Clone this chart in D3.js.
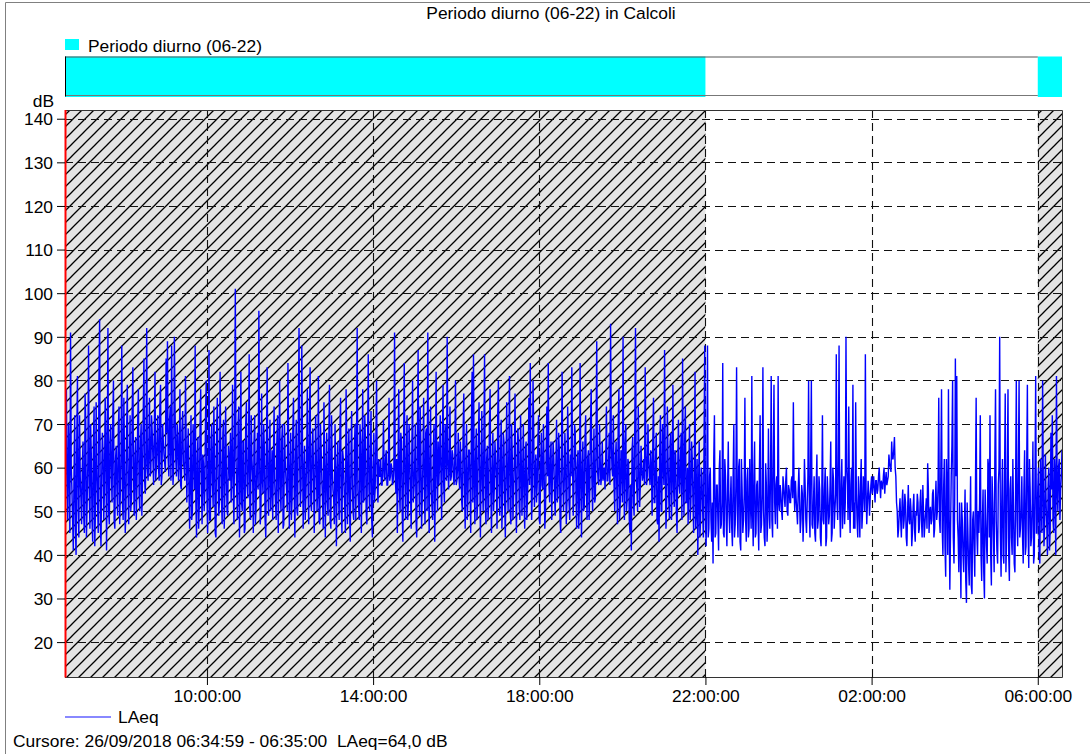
<!DOCTYPE html>
<html><head><meta charset="utf-8">
<script src="https://cdn.jsdelivr.net/npm/d3@7"></script>
<style>body{margin:0;background:#fff}svg{display:block}text{font-family:"Liberation Sans",Arial,Helvetica,sans-serif;white-space:pre}</style>
</head><body><svg id="c" width="1090" height="754"></svg>
<script>
const title = "Periodo diurno (06-22) in Calcoli";
const periodLabel = "Periodo diurno (06-22)";
const seriesName = "LAeq";
const yUnit = "dB";
const cursorText = "Cursore: 26/09/2018 06:34:59 - 06:35:00  LAeq=64,0 dB";
const startTime = "2018-09-25T06:35:00";
const endTime = "2018-09-26T06:35:00";
const yDomain = [12, 142];
const yTicks = [20, 30, 40, 50, 60, 70, 80, 90, 100, 110, 120, 130, 140];
const xTickTimes = ["2018-09-25T10:00:00","2018-09-25T14:00:00","2018-09-25T18:00:00","2018-09-25T22:00:00","2018-09-26T02:00:00","2018-09-26T06:00:00"];
const xTickLabels = ["10:00:00","14:00:00","18:00:00","22:00:00","02:00:00","06:00:00"];
const dayPeriodStarts = ["2018-09-25T06:35:00","2018-09-26T06:00:00"];
const dayPeriodEnds = ["2018-09-25T22:00:00","2018-09-26T06:35:00"];
// LAeq at even minutes (06:35, 06:37, ...), one row per hour
const laeqEven = [
50,78,48,62,91,55,41,72,40,81,44,58,47,66,45,70,52,88,46,63,43,74,50,60,45,94,42,68,48,76,
41,92,47,70,52,80,46,65,49,74,55,88,48,62,50,79,47,72,53,83,49,67,56,78,50,70,58,85,54,92,
57,76,59,68,56,82,60,72,57,79,58,66,61,85,89,58,74,88,56,90,62,70,57,78,55,73,60,81,52,69,
46,72,50,64,88,44,67,52,78,47,61,55,80,45,87,48,70,51,63,44,76,49,82,53,68,46,74,50,65,57,
52,79,47,101,55,70,44,82,50,66,46,75,53,86,48,62,45,72,51,68,96,47,77,54,64,44,83,49,71,56,
48,74,52,66,45,80,50,70,47,62,55,84,46,68,53,76,44,71,49,92,51,88,46,65,54,78,47,83,50,69,
45,72,50,81,47,64,52,75,44,68,49,79,46,60,53,70,42,66,48,76,45,62,51,78,47,69,43,73,50,65,
48,92,51,70,45,78,53,66,47,86,50,73,44,68,55,80,52,58,62,56,71,57,64,56,76,58,60,57,91,54,
45,78,50,66,43,84,48,72,52,62,46,80,55,70,44,87,49,65,53,76,47,69,91,45,74,51,64,43,82,50,
56,72,48,79,52,66,90,55,74,58,63,56,80,57,68,55,61,50,77,46,70,53,64,45,82,86,47,69,52,75,
44,73,50,86,47,65,52,78,45,68,55,62,46,80,49,71,53,66,44,75,50,81,47,63,54,77,45,69,51,72,
49,70,46,66,53,76,84,48,80,51,63,56,72,47,68,55,60,50,74,84,52,66,58,62,49,71,54,64,45,82,
50,68,47,74,52,63,83,49,70,54,61,46,84,44,66,51,72,48,64,55,78,50,69,53,89,57,70,56,66,58,
55,74,57,68,93,60,72,50,66,47,78,52,63,90,48,70,53,61,45,41,67,49,92,55,74,51,65,57,62,83,
56,70,58,64,49,76,52,68,47,43,72,50,62,87,46,74,53,66,48,79,51,63,45,71,54,68,85,49,74,52,
47,70,52,62,45,82,50,40,66,48,58,44,88,42,88,46,60,43,38,72,45,56,41,64,47,84,44,58,42,66,
45,58,42,70,47,83,44,62,41,55,48,76,43,60,46,52,81,42,66,45,57,41,72,47,83,44,61,43,69,46,
81,44,79,47,58,81,50,54,48,56,51,60,49,55,52,58,75,50,53,47,60,45,56,43,62,48,52,80,44,80,
46,58,43,63,48,55,42,72,47,60,44,53,49,66,45,57,50,86,48,88,44,62,53,47,90,56,74,45,60,79,
52,75,48,58,44,62,50,55,86,47,57,49,56,54,58,52,57,55,60,53,56,58,54,59,57,63,60,66,62,67,
58,50,46,53,44,55,48,52,42,56,47,50,45,54,43,49,52,46,55,44,50,47,53,61,45,51,48,55,46,57,
50,76,45,78,40,62,35,55,78,32,58,80,38,85,81,44,52,30,48,36,55,29,46,33,58,31,50,35,76,40,
45,72,34,55,30,48,38,60,72,33,52,36,78,41,56,90,35,62,38,77,44,78,34,58,40,50,36,80,42,80,
46,58,38,64,42,79,37,55,44,66,40,81,45,60,38,52,80,42,63,47,56,41,68,72,45,58,81,50,62,55,
64
];
// LAeq at odd minutes (06:36, 06:38, ...), one row per hour
const laeqOdd = [
62,55,70,45,60,48,58,46,66,50,72,53,60,49,77,44,61,55,70,48,65,42,75,52,80,47,58,63,55,68,
60,50,66,58,71,48,62,55,69,47,64,52,76,45,68,56,60,50,72,58,62,48,70,54,66,49,72,57,63,60,
64,58,72,62,69,57,66,60,74,56,70,63,59,68,62,71,57,65,60,73,58,67,62,56,69,61,57,66,63,55,
58,48,70,55,52,62,46,68,57,63,50,72,54,60,48,66,56,74,45,68,58,52,64,47,71,55,60,49,62,68,
60,55,68,62,48,74,58,52,66,45,70,56,62,50,72,58,66,47,60,55,64,50,58,70,48,66,56,62,50,64,
62,56,48,72,60,55,66,46,70,58,50,64,57,48,68,55,62,50,72,60,56,66,58,48,62,56,70,52,64,58,
58,62,55,48,70,57,46,62,58,52,66,48,72,55,47,60,58,54,68,50,64,56,45,66,58,50,62,56,48,70,
62,55,48,66,58,52,72,50,64,55,62,48,60,52,66,57,62,58,56,60,58,62,56,59,57,61,56,60,58,62,
60,55,68,50,64,57,62,48,70,55,64,52,60,48,66,58,74,46,62,55,68,50,58,62,55,48,70,56,60,66,
62,58,64,56,70,57,62,60,57,64,58,62,56,60,58,66,52,68,55,62,48,64,56,70,52,58,62,48,66,58,
60,56,66,52,62,48,70,55,60,50,66,57,72,55,62,46,68,52,60,56,64,50,70,48,62,56,58,66,48,62,
58,52,64,48,60,56,62,55,68,58,52,66,48,60,56,70,46,64,58,56,62,48,66,54,60,52,68,48,62,58,
56,62,52,66,48,58,62,55,68,46,64,52,58,60,50,66,56,62,48,70,57,60,52,66,60,56,62,58,57,60,
62,57,60,56,66,58,56,62,55,70,48,64,52,58,66,50,62,48,56,64,52,70,58,50,62,56,60,58,56,64,
58,62,56,60,66,52,62,48,58,64,50,70,56,60,52,62,48,68,58,55,64,50,60,56,62,48,58,66,52,60,
58,48,66,52,60,46,62,55,44,60,50,66,48,55,44,58,48,52,62,44,56,48,60,46,52,45,62,48,55,50,
52,46,58,44,56,50,60,43,62,45,54,48,57,44,62,46,50,58,44,56,48,60,45,54,50,42,56,48,52,58,
48,62,52,56,46,52,56,50,58,53,57,50,56,52,57,53,55,57,50,55,52,48,54,50,56,45,58,50,62,47,
52,45,56,46,58,44,52,48,55,42,58,47,56,43,60,46,54,52,62,50,56,46,58,52,60,48,52,56,50,46,
46,54,44,52,56,46,58,50,55,52,54,53,58,56,55,57,54,58,56,57,55,60,57,56,58,61,59,62,64,60,
52,44,50,48,52,46,54,44,50,48,53,42,51,46,50,54,45,52,48,56,44,50,46,55,50,47,54,44,52,48,
56,48,60,46,55,42,62,40,50,45,65,44,52,58,48,36,44,52,40,46,34,52,38,44,33,48,42,55,45,50,
52,40,48,36,55,42,62,44,40,58,44,62,48,38,60,45,52,40,58,36,60,40,55,44,62,38,56,48,60,44,
50,44,55,40,60,46,62,42,52,38,58,45,55,40,62,45,56,48,52,40,60,46,55,48,62,40,55,60,48,58
];

const parse = d3.timeParse("%Y-%m-%dT%H:%M:%S");
const t0 = parse(startTime), t1 = parse(endTime);
const data = [];
laeqEven.forEach((v, i) => {
  data.push({t: d3.timeMinute.offset(t0, 2 * i), v});
  if (i < laeqOdd.length) data.push({t: d3.timeMinute.offset(t0, 2 * i + 1), v: laeqOdd[i]});
});

const L = 65, R = 1062, T = 110, B = 677;
const FS = 17.4;
const x = d3.scaleTime().domain([t0, t1]).range([L, R]);
const y = d3.scaleLinear().domain(yDomain).range([B, T]);

const svg = d3.select("#c");
const defs = svg.append("defs");
const pat = defs.append("pattern").attr("id", "hatch").attr("patternUnits", "userSpaceOnUse")
  .attr("width", 12).attr("height", 12);
pat.append("rect").attr("width", 12).attr("height", 12).attr("fill", "#e4e4e4");
pat.append("path").attr("d", "M-3,3 L3,-3 M0,12 L12,0 M9,15 L15,9")
  .attr("stroke", "#000").attr("stroke-width", 1.3);
defs.append("clipPath").attr("id", "plotclip").append("rect")
  .attr("x", L).attr("y", T).attr("width", R - L).attr("height", B - T);

// outer frame
svg.append("path").attr("d", "M5.5,760 L5.5,2.5 L1100,2.5").attr("fill", "none")
  .attr("stroke", "#808080").attr("stroke-width", 1);

// title
svg.append("text").attr("x", 551).attr("y", 19).attr("text-anchor", "middle")
  .attr("font-size", FS).attr("fill", "#000").text(title);

// legend of period
svg.append("rect").attr("x", 65).attr("y", 39).attr("width", 14).attr("height", 11).attr("fill", "#00ffff");
svg.append("text").attr("x", 88).attr("y", 52).attr("font-size", FS).attr("fill", "#000").text(periodLabel);

// period band
const periods = dayPeriodStarts.map((s, i) => [parse(s), parse(dayPeriodEnds[i])]);
svg.append("rect").attr("x", L).attr("y", 57).attr("width", R - L).attr("height", 39).attr("fill", "#fff");
svg.selectAll("rect.band").data(periods).join("rect").attr("class", "band")
  .attr("x", d => x(d[0])).attr("width", d => x(d[1]) - x(d[0]))
  .attr("y", 56.5).attr("height", 40.5).attr("fill", "#00ffff");
svg.append("line").attr("x1", L).attr("x2", x(periods[1][0])).attr("y1", 57).attr("y2", 57)
  .attr("stroke", "#555").attr("stroke-width", 1);
svg.append("line").attr("x1", L).attr("x2", x(periods[1][0])).attr("y1", 95.5).attr("y2", 95.5)
  .attr("stroke", "#777").attr("stroke-width", 1);
svg.append("line").attr("x1", L + 0.5).attr("x2", L + 0.5).attr("y1", 56.5).attr("y2", 96.5)
  .attr("stroke", "#000").attr("stroke-width", 1);

// hatched day regions in plot
svg.selectAll("rect.hatch").data(periods).join("rect").attr("class", "hatch")
  .attr("x", d => x(d[0])).attr("width", d => x(d[1]) - x(d[0]))
  .attr("y", T).attr("height", B - T).attr("fill", "url(#hatch)");

// grid
const grid = svg.append("g").attr("stroke", "#111").attr("stroke-width", 1.1).attr("stroke-dasharray", "8,5");
grid.selectAll("line.h").data(yTicks).join("line").attr("class", "h")
  .attr("x1", L).attr("x2", R).attr("y1", d => Math.round(y(d)) + 0.5).attr("y2", d => Math.round(y(d)) + 0.5);
const xt = xTickTimes.map(parse);
grid.selectAll("line.v").data(xt).join("line").attr("class", "v")
  .attr("y1", T).attr("y2", B).attr("x1", d => Math.round(x(d)) + 0.5).attr("x2", d => Math.round(x(d)) + 0.5);

// data line
const line = d3.line().x(d => x(d.t)).y(d => y(d.v));
svg.append("path").datum(data).attr("clip-path", "url(#plotclip)")
  .attr("d", line).attr("fill", "none").attr("stroke", "#0000ff").attr("stroke-width", 1.4)
  .attr("stroke-linejoin", "miter").attr("stroke-miterlimit", 2);

// frame
svg.append("path").attr("d", `M${L},${T+0.5} L${R+0.5},${T+0.5} L${R+0.5},${B+0.5} L${L},${B+0.5}`)
  .attr("fill", "none").attr("stroke", "#333").attr("stroke-width", 1);
svg.append("line").attr("x1", L + 0.5).attr("x2", L + 0.5).attr("y1", T).attr("y2", B + 0.5)
  .attr("stroke", "#ff0000").attr("stroke-width", 2);

// y axis
const yAxis = d3.axisLeft(y).tickValues(yTicks).tickSize(8).tickPadding(4).tickFormat(d3.format("d"));
const gy = svg.append("g").attr("transform", `translate(${L},0)`).call(yAxis);
gy.select(".domain").remove();
gy.selectAll(".tick line").attr("stroke", "#000");
gy.selectAll(".tick text").attr("font-size", FS).attr("fill", "#000").attr("font-family", "Liberation Sans, Arial, sans-serif").attr("dy", "0.36em");
svg.append("text").attr("x", 54).attr("y", 107).attr("text-anchor", "end").attr("font-size", FS).text(yUnit);

// x axis
const xAxis = d3.axisBottom(x).tickValues(xt).tickSize(8).tickPadding(5)
  .tickFormat((d, i) => xTickLabels[i]);
const gx = svg.append("g").attr("transform", `translate(0,${B})`).call(xAxis);
gx.select(".domain").remove();
gx.selectAll(".tick line").attr("stroke", "#000");
gx.selectAll(".tick text").attr("font-size", FS).attr("fill", "#000").attr("font-family", "Liberation Sans, Arial, sans-serif").attr("dy", "0.71em");

// series legend
svg.append("line").attr("x1", 65).attr("x2", 111).attr("y1", 717).attr("y2", 717)
  .attr("stroke", "#6060ff").attr("stroke-width", 1.5);
svg.append("text").attr("x", 118).attr("y", 723).attr("font-size", FS).text(seriesName);

// cursor
svg.append("text").attr("x", 13).attr("y", 747).attr("font-size", FS).text(cursorText);
</script>
</body></html>
